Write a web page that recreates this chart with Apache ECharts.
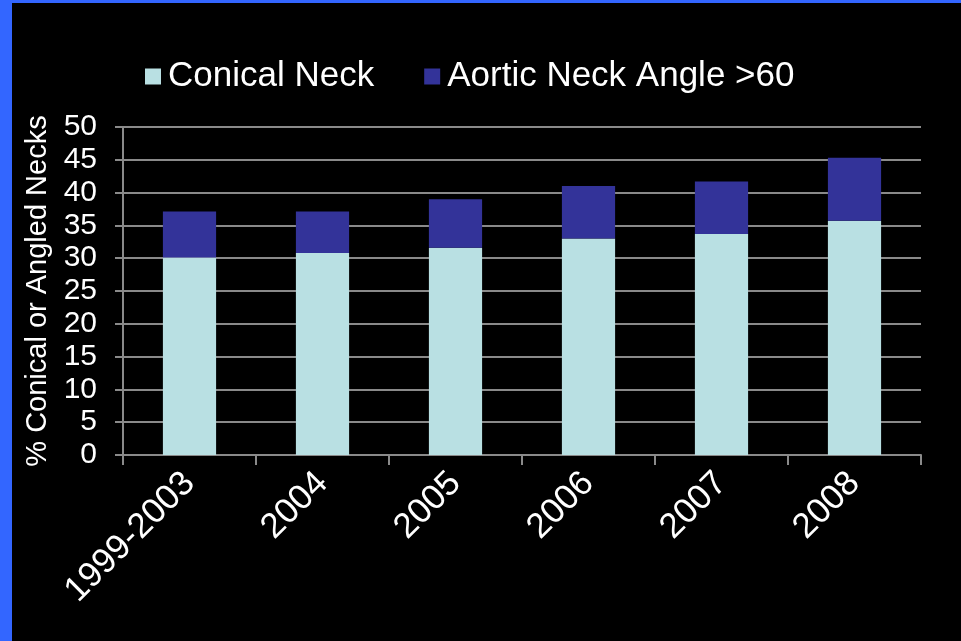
<!DOCTYPE html>
<html>
<head>
<meta charset="utf-8">
<script src="https://cdn.jsdelivr.net/npm/echarts@6/dist/echarts.min.js"></script>
<style>
  html, body { margin: 0; padding: 0; background: #3366ff; }
  #chart {
    position: absolute;
    left: 12px;
    top: 3px;
    width: 949px;
    height: 638px;
    background: #000;
  }
</style>
</head>
<body>
<div id="chart"></div>
<script>
  const categories = ['1999-2003', '2004', '2005', '2006', '2007', '2008'];
  const conicalNeck = [30.1, 30.8, 31.6, 33.0, 33.7, 35.7];
  const angledNeck = [7.0, 6.3, 7.4, 8.0, 8.0, 9.6];
  const yTicks = [0, 50, 5]; // min, max, interval

  const font = "'Liberation Sans', Arial, sans-serif";
  const chart = echarts.init(document.getElementById('chart'));

  chart.setOption({
    backgroundColor: '#000',
    animation: false,
    textStyle: { fontFamily: font, color: '#fff' },
    legend: {
      left: 128,
      top: 51,
      itemWidth: 16,
      itemHeight: 16,
      itemGap: 50,
      icon: 'rect',
      textStyle: { color: '#fff', fontSize: 35, fontFamily: font, padding: [0, 0, 0, 2] },
      data: ['Conical Neck', 'Aortic Neck Angle >60'],
    },
    grid: {
      left: 111,
      right: 40,
      top: 124,
      bottom: 186,
    },
    xAxis: {
      type: 'category',
      data: categories,
      boundaryGap: true,
      axisLine: { lineStyle: { color: '#8a8a8a', width: 2 } },
      axisTick: { show: true, length: 10, lineStyle: { color: '#8a8a8a', width: 2 } },
      axisLabel: {
        color: '#fff',
        fontSize: 35,
        fontFamily: font,
        rotate: 45,
        interval: 0,
        margin: 23,
      },
    },
    yAxis: {
      type: 'value',
      min: yTicks[0],
      max: yTicks[1],
      interval: yTicks[2],
      name: '% Conical or Angled Necks',
      nameLocation: 'middle',
      nameGap: 68,
      nameTextStyle: { color: '#fff', fontSize: 29, fontFamily: font },
      axisLine: { show: true, lineStyle: { color: '#8a8a8a', width: 2 } },
      axisTick: { show: true, length: 8, lineStyle: { color: '#8a8a8a', width: 2 } },
      axisLabel: { color: '#fff', fontSize: 30, fontFamily: font, margin: 26 },
      splitLine: { show: true, lineStyle: { color: '#8a8a8a', width: 2 } },
    },
    series: [
      {
        name: 'Conical Neck',
        type: 'bar',
        stack: 'necks',
        barWidth: '40%',
        data: conicalNeck,
        itemStyle: { color: '#b9e0e3' },
      },
      {
        name: 'Aortic Neck Angle >60',
        type: 'bar',
        stack: 'necks',
        barWidth: '40%',
        data: angledNeck,
        itemStyle: { color: '#333399' },
      },
    ],
  });
</script>
</body>
</html>
